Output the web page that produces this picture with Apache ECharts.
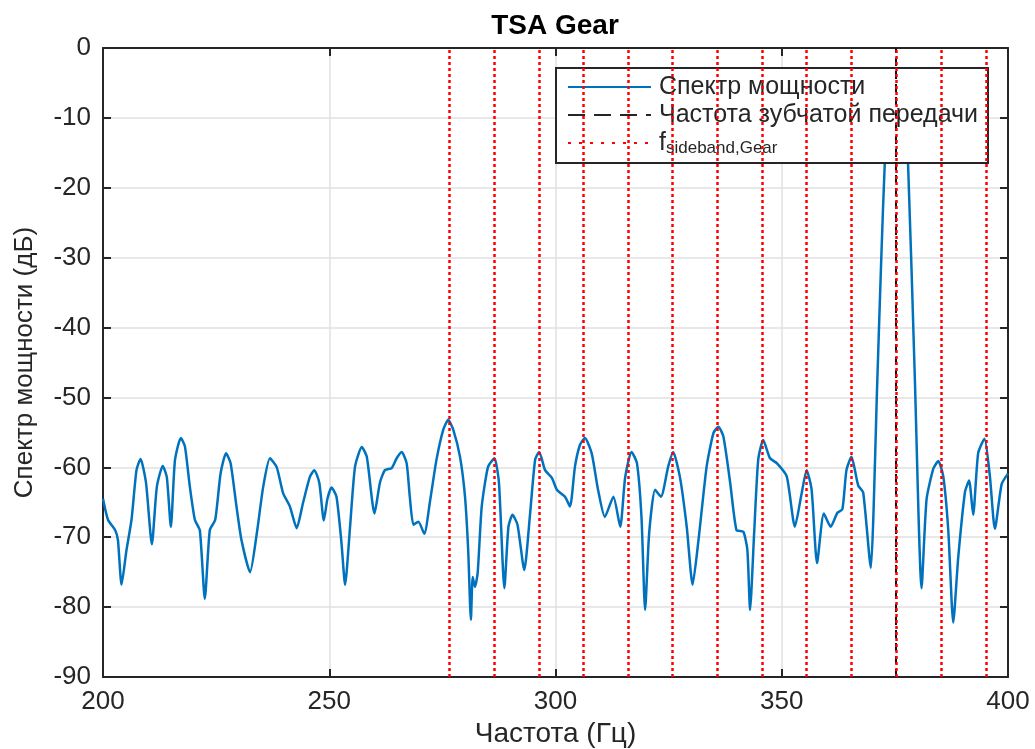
<!DOCTYPE html>
<html>
<head>
<meta charset="utf-8">
<script src="https://cdn.jsdelivr.net/npm/echarts@6/dist/echarts.min.js"></script>
<style>
html,body{margin:0;padding:0;background:#fff;}
#chart{width:1035px;height:749px;}
</style>
</head>
<body>
<div id="chart"></div>
<script>
// ---- data ----
const freqHz = [200.0,201.1,202.7,203.3,204.1,205.2,206.3,207.4,208.3,209.5,210.8,211.9,213.2,214.1,215.0,215.9,217.2,218.1,219.2,220.3,221.4,222.5,223.6,224.8,226.0,227.2,228.2,229.5,230.6,232.5,234.0,235.4,236.9,238.4,239.8,241.3,242.8,244.2,245.7,246.7,247.8,248.8,249.6,250.5,251.6,252.7,253.5,254.6,255.7,257.2,258.3,260.0,261.2,262.3,263.8,264.9,266.0,267.1,267.8,268.6,269.7,271.0,272.3,273.7,275.2,276.3,277.4,278.9,280.0,280.7,281.3,281.7,282.2,282.8,283.7,285.1,286.5,287.5,288.7,289.6,290.5,291.6,293.1,294.4,295.5,296.4,297.7,299.2,300.3,302.1,303.2,304.3,305.4,306.5,308.0,309.4,310.9,312.8,314.3,315.4,316.8,318.0,319.0,319.8,320.7,322.0,323.3,324.9,326.0,327.5,329.0,330.3,331.6,333.4,334.9,336.0,337.1,338.6,340.0,341.5,342.4,343.0,343.9,344.8,345.9,347.4,348.9,351.1,352.9,354.4,355.5,356.6,357.8,359.3,360.8,362.3,363.4,364.3,365.4,366.9,368.0,369.7,370.3,371.0,372.0,372.8,373.6,374.5,375.3,376.1,377.0,377.9,379.4,380.9,382.0,383.5,384.6,385.7,386.8,387.9,389.0,390.5,391.4,392.3,393.4,394.8,396.0,397.1,398.6,400.0];
const powerDb = [-64.5,-67.5,-69.0,-70.4,-76.8,-71.8,-67.5,-60.4,-58.8,-62.2,-71.0,-62.8,-59.8,-61.4,-68.5,-59.0,-55.8,-57.0,-62.8,-67.5,-69.0,-78.8,-69.0,-67.5,-60.8,-58.0,-59.4,-65.6,-70.4,-75.0,-69.4,-62.8,-58.7,-60.0,-63.7,-65.6,-68.7,-65.1,-61.4,-60.4,-62.2,-67.6,-64.5,-62.9,-64.2,-70.8,-76.8,-68.5,-59.9,-57.1,-58.5,-66.6,-62.2,-60.4,-60.1,-58.7,-57.8,-59.4,-64.2,-68.2,-67.8,-69.5,-64.7,-58.9,-54.6,-53.2,-54.6,-58.5,-64.2,-71.8,-81.8,-75.7,-77.1,-75.1,-65.6,-59.9,-58.7,-62.2,-77.3,-68.5,-66.8,-68.2,-74.7,-66.5,-58.9,-57.8,-60.4,-61.5,-63.2,-64.2,-65.6,-59.9,-56.8,-55.8,-58.0,-63.2,-67.1,-64.2,-68.5,-61.4,-57.8,-59.4,-67.1,-80.4,-69.4,-63.2,-64.2,-59.9,-57.8,-61.4,-68.5,-76.8,-70.4,-59.9,-55.1,-54.2,-55.6,-62.2,-69.0,-69.2,-71.8,-80.4,-69.4,-58.9,-56.1,-58.7,-59.4,-61.3,-68.5,-63.7,-60.4,-63.2,-73.7,-66.6,-68.5,-66.5,-66.0,-60.4,-58.5,-62.6,-63.6,-74.4,-66.0,-50.0,-30.0,-16.0,-9.0,-6.5,-6.0,-6.5,-9.0,-16.3,-47.0,-77.3,-64.6,-60.2,-59.1,-61.3,-69.0,-82.2,-72.9,-63.5,-61.9,-66.8,-58.0,-55.9,-61.3,-68.8,-62.4,-60.9];
const gearMeshHz = [375.3];
const sidebandHz = [276.5,286.4,296.3,306.1,316.0,325.9,335.8,345.6,355.5,365.4,375.3,385.2,395.1];
const xTicks = [200,250,300,350,400];
const yTicks = [-90,-80,-70,-60,-50,-40,-30,-20,-10,0];
const seriesNames = ['Спектр мощности','Частота зубчатой передачи','f_sideband,Gear'];
const titleText = 'TSA Gear';
const xLabel = 'Частота (Гц)';
const yLabel = 'Спектр мощности (дБ)';

const spectrum = freqHz.map((f,i)=>[f,powerDb[i]]);
const FONT = '"Liberation Sans", Arial, sans-serif';
const AX = '#262626';

const chart = echarts.init(document.getElementById('chart'), null, {renderer:'canvas'});
const axisCommon = {
  type:'value', axisLine:{show:true, onZero:false, lineStyle:{color:AX, width:2}},
  axisTick:{show:true, inside:true, length:8, lineStyle:{color:AX, width:2}},
};
chart.setOption({
  animation:false,
  backgroundColor:'#fff',
  textStyle:{fontFamily:FONT},
  title:{text:titleText, left:555, top:12, textAlign:'center', padding:0,
    textStyle:{fontFamily:FONT, fontSize:28, fontWeight:'bold', color:'#000'}},
  grid:{left:103, right:27, top:48, bottom:72, containLabel:false, outerBoundsMode:'none'},
  legend:{
    show:true, orient:'vertical', left:556, top:68,
    data:seriesNames,
    backgroundColor:'#fff', borderColor:AX, borderWidth:2, borderRadius:0,
    padding:[5,7,6,11], itemGap:0, itemWidth:83, itemHeight:14,
    selectedMode:false,
    itemStyle:{opacity:0},
    formatter:function(n){ return n==='f_sideband,Gear' ? '{f|f}{s|sideband,Gear}' : n; },
    textStyle:{fontFamily:FONT, fontSize:25, color:AX, lineHeight:28, width:322, padding:[0,0,0,3],
      rich:{f:{fontFamily:FONT, fontSize:25, color:AX, lineHeight:28},
            s:{fontFamily:FONT, fontSize:17, color:AX, lineHeight:17, verticalAlign:'bottom'}}}
  },
  xAxis:[
    Object.assign({}, axisCommon, {position:'bottom', min:200, max:400, interval:50,
      name:xLabel, nameLocation:'middle', nameGap:43,
      nameTextStyle:{fontFamily:FONT, fontSize:28, color:AX},
      axisLabel:{fontFamily:FONT, fontSize:26, color:AX, margin:12,
        formatter:v=> xTicks.indexOf(v)>=0 ? String(v) : ''},
      splitLine:{show:true, lineStyle:{color:'#e0e0e0', width:1.5}}}),
    Object.assign({}, axisCommon, {position:'top', min:200, max:400, interval:50,
      axisLabel:{show:false}, splitLine:{show:false}})
  ],
  yAxis:[
    Object.assign({}, axisCommon, {position:'left', min:-90, max:0, interval:10,
      name:yLabel, nameLocation:'middle', nameGap:65,
      nameTextStyle:{fontFamily:FONT, fontSize:26, color:AX},
      axisLabel:{fontFamily:FONT, fontSize:26, color:AX, margin:12,
        formatter:v=> yTicks.indexOf(v)>=0 ? String(v) : ''},
      splitLine:{show:true, lineStyle:{color:'#e0e0e0', width:1.5}}}),
    Object.assign({}, axisCommon, {position:'right', min:-90, max:0, interval:10,
      axisLabel:{show:false}, splitLine:{show:false}})
  ],
  series:[
    {name:seriesNames[0], type:'line', data:spectrum, symbol:'none', smooth:0.2,
      lineStyle:{color:'#0072BD', width:2.5}, itemStyle:{color:'#0072BD'}, z:2, clip:true},
    {name:seriesNames[1], type:'line', data:[], symbol:'none',
      lineStyle:{color:'#262626', width:2.5, type:[17,9]}, itemStyle:{color:'#262626'}, z:3,
      markLine:{silent:true, symbol:['none','none'], label:{show:false},
        lineStyle:{color:'#111', width:2, type:[8,5]},
        data:gearMeshHz.map(v=>({xAxis:v}))}},
    {name:seriesNames[2], type:'line', data:[], symbol:'none',
      lineStyle:{color:'#ff0000', width:2.5, type:[3,8]}, itemStyle:{color:'#ff0000'}, z:4,
      markLine:{silent:true, symbol:['none','none'], label:{show:false},
        lineStyle:{color:'#ff0000', width:2.5, type:[3,3]},
        data:sidebandHz.map(v=>({xAxis:v}))}}
  ]
});
</script>
</body>
</html>
